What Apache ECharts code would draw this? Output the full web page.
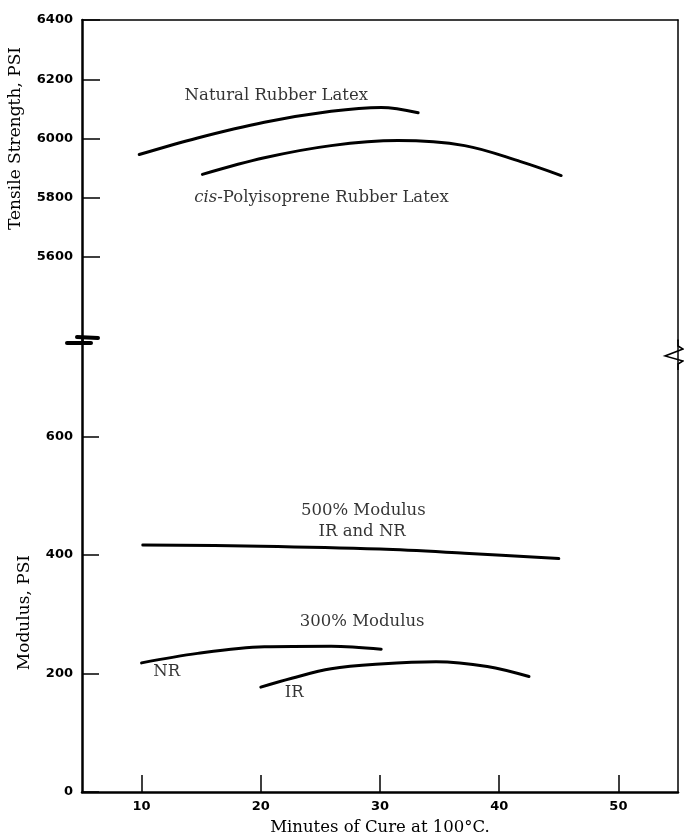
<!DOCTYPE html>
<html>
<head>
<meta charset="utf-8">
<script src="https://cdn.jsdelivr.net/npm/echarts@6/dist/echarts.min.js"></script>
<style>
  html, body { margin: 0; padding: 0; background: #fff; }
  #chart { width: 684px; height: 833px; }
</style>
</head>
<body>
<div id="chart"></div>
<script>
// x ticks (minutes of cure)
const xTicks = [10, 20, 30, 40, 50];
const tensileTicks = [5600, 5800, 6000, 6200, 6400];
const modulusTicks = [0, 200, 400, 600];

// tensile strength curves
const nrLatexX = [9.8, 14.7, 20.3, 25.9, 30.1, 33.2];
const nrLatexY = [5946, 6002, 6055, 6092, 6105, 6087];
const cisLatexX = [15.1, 20.3, 25.9, 31.5, 37.1, 41.8, 45.2];
const cisLatexY = [5879, 5935, 5976, 5993, 5976, 5922, 5875];

// modulus curves
const mod500X = [10.1, 20, 30, 37.1, 45];
const mod500Y = [417, 415, 410, 403, 394];
const nr300X = [10, 14.7, 20.3, 25.9, 30.1];
const nr300Y = [218, 234, 245, 246, 241];
const ir300X = [20, 22.6, 25.9, 30, 34.7, 39, 42.5];
const ir300Y = [177, 192, 208, 216, 220, 212, 195];

// curve labels [text, minute, value]
const topNotes = [
  ["Natural Rubber Latex", 21.3, 6145],
  ["{i|cis}-Polyisoprene Rubber Latex", 25.1, 5800]
];
const bottomNotes = [
  ["500% Modulus", 28.6, 475],
  ["IR and NR", 28.5, 439],
  ["300% Modulus", 28.5, 287],
  ["NR", 12.1, 203],
  ["IR", 22.8, 167]
];

const chart = echarts.init(document.getElementById("chart"));
const font = "DejaVu Serif";
const ink = "#000";

function pairs(xs, ys) {
  return xs.map((x, i) => [x, ys[i]]);
}

function curve(xs, ys, idx) {
  return {
    type: "line",
    xAxisIndex: idx,
    yAxisIndex: idx,
    data: pairs(xs, ys),
    smooth: 0.35,
    symbol: "none",
    silent: true,
    lineStyle: { color: ink, width: 3, cap: "round" },
  };
}

function notes(list, idx) {
  return {
    type: "scatter",
    xAxisIndex: idx,
    yAxisIndex: idx,
    symbolSize: 0,
    silent: true,
    data: list.map((n) => ({ value: [n[1], n[2]], name: n[0] })),
    label: {
      show: true,
      position: "inside",
      formatter: (p) => p.name,
      color: ink,
      fontFamily: font,
      fontSize: 16.5,
      rich: {
        i: { fontStyle: "italic", fontFamily: font, fontSize: 16.5, color: ink },
      },
    },
  };
}

const tickLabel = {
  color: ink,
  fontFamily: "DejaVu Sans",
  fontWeight: "bold",
  fontSize: 13,
  formatter: (v) => String(v),
};

const xBase = {
  type: "value",
  min: 5,
  max: 55,
  splitLine: { show: false },
};

const option = {
  backgroundColor: "#fff",
  animation: false,
  grid: [
    { left: 82, right: 6, top: 20, height: 320, outerBoundsMode: "none" },
    { left: 82, right: 6, top: 340, height: 452, outerBoundsMode: "none" },
  ],
  xAxis: [
    {
      ...xBase,
      gridIndex: 0,
      position: "top",
      axisLine: { show: true, lineStyle: { color: ink, width: 1.5 } },
      axisTick: { show: false },
      axisLabel: { show: false },
    },
    {
      ...xBase,
      gridIndex: 1,
      position: "bottom",
      axisLine: { show: true, lineStyle: { color: ink, width: 2.5 } },
      axisTick: {
        show: true,
        inside: true,
        length: 17,
        customValues: xTicks,
        lineStyle: { color: ink, width: 1.5 },
      },
      axisLabel: { ...tickLabel, customValues: xTicks, margin: 8 },
      name: "Minutes of Cure at 100°C.",
      nameLocation: "middle",
      nameGap: 27,
      nameTextStyle: { color: ink, fontFamily: font, fontSize: 16.5 },
    },
  ],
  yAxis: [
    {
      type: "value",
      gridIndex: 0,
      min: 5320,
      max: 6400,
      splitLine: { show: false },
      axisLine: { show: true, lineStyle: { color: ink, width: 2.5 } },
      axisTick: {
        show: true,
        inside: true,
        length: 18,
        customValues: tensileTicks,
        lineStyle: { color: ink, width: 1.5 },
      },
      axisLabel: { ...tickLabel, customValues: tensileTicks, margin: 9 },
    },
    {
      type: "value",
      gridIndex: 1,
      min: 0,
      max: 763,
      splitLine: { show: false },
      axisLine: { show: true, lineStyle: { color: ink, width: 2.5 } },
      axisTick: {
        show: true,
        inside: true,
        length: 17,
        customValues: modulusTicks,
        lineStyle: { color: ink, width: 1.5 },
      },
      axisLabel: { ...tickLabel, customValues: modulusTicks, margin: 9 },
    },
    {
      type: "value",
      gridIndex: 0,
      position: "right",
      min: 5320,
      max: 6400,
      splitLine: { show: false },
      axisLine: { show: true, lineStyle: { color: ink, width: 1.5 } },
      axisTick: { show: false },
      axisLabel: { show: false },
    },
    {
      type: "value",
      gridIndex: 1,
      position: "right",
      min: 0,
      max: 763,
      splitLine: { show: false },
      axisLine: { show: true, lineStyle: { color: ink, width: 1.5 } },
      axisTick: { show: false },
      axisLabel: { show: false },
    },
  ],
  series: [
    curve(nrLatexX, nrLatexY, 0),
    curve(cisLatexX, cisLatexY, 0),
    curve(mod500X, mod500Y, 1),
    curve(nr300X, nr300Y, 1),
    curve(ir300X, ir300Y, 1),
    notes(topNotes, 0),
    notes(bottomNotes, 1),
  ],
  graphic: [
    {
      type: "text",
      left: 7,
      top: 47,
      rotation: Math.PI / 2,
      style: {
        text: "Tensile Strength, PSI",
        fill: ink,
        font: "17px " + font,
      },
    },
    {
      type: "text",
      left: 16,
      top: 555,
      rotation: Math.PI / 2,
      style: {
        text: "Modulus, PSI",
        fill: ink,
        font: "17px " + font,
      },
    },
    // left axis break
    {
      type: "line",
      shape: { x1: 77, y1: 337, x2: 98, y2: 338 },
      style: { stroke: ink, lineWidth: 4, lineCap: "round" },
    },
    {
      type: "line",
      shape: { x1: 67, y1: 343, x2: 91, y2: 343 },
      style: { stroke: ink, lineWidth: 4, lineCap: "round" },
    },
    // right border break
    {
      type: "rect",
      shape: { x: 674, y: 344, width: 10, height: 20 },
      style: { fill: "#fff" },
    },
    {
      type: "polyline",
      shape: {
        points: [
          [678, 340],
          [678, 346],
          [683, 349],
          [665, 356],
          [683, 361],
          [678, 364],
          [678, 370],
        ],
      },
      style: { stroke: ink, lineWidth: 1.5, fill: null },
    },
  ],
};

chart.setOption(option);
</script>
</body>
</html>
